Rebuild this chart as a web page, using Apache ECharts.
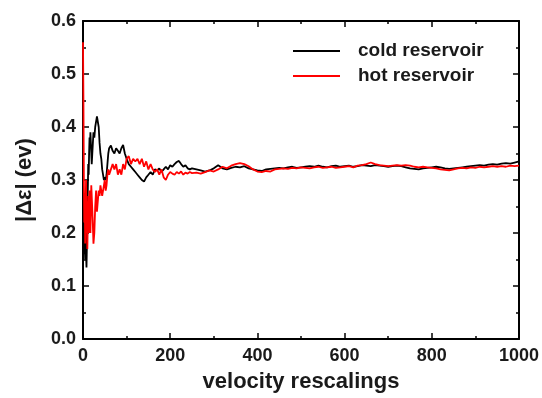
<!DOCTYPE html>
<html>
<head>
<meta charset="utf-8">
<script src="https://cdn.jsdelivr.net/npm/echarts@6/dist/echarts.min.js"></script>
<style>
  html, body { margin: 0; padding: 0; background: #fff; }
  #chart { width: 542px; height: 398px; }
</style>
</head>
<body>
<div id="chart"></div>
<script>
// velocity rescaling steps (x)
const steps = [
  0, 1, 2, 3, 4, 5, 6, 7, 8, 9, 10, 11, 12, 13, 14, 15, 16, 17, 18, 19, 20,
  22, 24, 26, 28, 30, 32, 34, 36, 38, 40, 42, 44, 46, 48, 50, 52, 54, 56, 58, 60,
  64, 68, 72, 76, 80, 84, 88, 92, 96, 100,
  105, 110, 115, 120, 125, 130, 135, 140, 145, 150, 155, 160, 165, 170, 175,
  180, 185, 190, 195, 200, 205, 210, 215, 220, 225, 230, 235, 240, 245, 250,
  260, 270, 280, 290, 300, 310, 320, 330, 340, 350,
  360, 370, 380, 390, 400, 410, 420, 430, 440, 450,
  460, 470, 480, 490, 500, 510, 520, 530, 540, 550,
  560, 570, 580, 590, 600, 610, 620, 630, 640, 650,
  660, 670, 680, 690, 700, 710, 720, 730, 740, 750,
  760, 770, 780, 790, 800, 810, 820, 830, 840, 850,
  860, 870, 880, 890, 900, 910, 920, 930, 940, 950,
  960, 970, 980, 990, 1000
];

// |Δε| cold reservoir
const coldValues = [
  0.25, 0.20, 0.16, 0.22, 0.18, 0.15, 0.20, 0.16, 0.135, 0.18, 0.24, 0.28, 0.33, 0.31, 0.35, 0.38, 0.36, 0.39, 0.37, 0.35, 0.33,
  0.36, 0.39, 0.38, 0.40, 0.41, 0.42, 0.423, 0.40, 0.37, 0.35, 0.34, 0.32, 0.31, 0.30, 0.305, 0.30, 0.31, 0.33, 0.35, 0.36,
  0.365, 0.355, 0.35, 0.36, 0.355, 0.35, 0.36, 0.366, 0.35, 0.34,
  0.33, 0.325, 0.32, 0.315, 0.31, 0.305, 0.30, 0.297, 0.305, 0.31, 0.315, 0.31, 0.32, 0.318, 0.322,
  0.315, 0.32, 0.325, 0.32, 0.328, 0.325, 0.33, 0.334, 0.336, 0.33, 0.325, 0.328, 0.322, 0.32, 0.322,
  0.32, 0.318, 0.316, 0.318, 0.322, 0.328, 0.322, 0.32, 0.323, 0.325,
  0.324, 0.326, 0.322, 0.32, 0.318, 0.317, 0.32, 0.321, 0.322, 0.323,
  0.322, 0.324, 0.325, 0.323, 0.324, 0.325, 0.326, 0.325, 0.327, 0.325,
  0.324, 0.326, 0.327, 0.325, 0.326, 0.327, 0.325, 0.326, 0.328, 0.327,
  0.326, 0.328, 0.327, 0.326, 0.325, 0.326, 0.327, 0.326, 0.324, 0.322,
  0.321, 0.32, 0.322, 0.323, 0.324, 0.325, 0.324, 0.322, 0.321, 0.322,
  0.323, 0.324, 0.325, 0.326, 0.327, 0.328, 0.327, 0.329, 0.33, 0.329,
  0.331, 0.332, 0.331, 0.333, 0.335
];

// |Δε| hot reservoir
const hotValues = [
  0.56, 0.45, 0.30, 0.22, 0.27, 0.18, 0.25, 0.30, 0.20, 0.26, 0.17, 0.22, 0.27, 0.20, 0.24, 0.28, 0.26, 0.20, 0.25, 0.29, 0.27,
  0.23, 0.18, 0.20, 0.25, 0.28, 0.24, 0.26, 0.28, 0.27, 0.29, 0.28, 0.27, 0.28, 0.29, 0.30, 0.28, 0.29, 0.31, 0.32, 0.31,
  0.32, 0.33, 0.32, 0.33, 0.31, 0.32, 0.31, 0.33, 0.32, 0.34,
  0.345, 0.33, 0.34, 0.335, 0.34, 0.33, 0.34, 0.325, 0.335, 0.32, 0.33, 0.32, 0.315, 0.32, 0.31,
  0.32, 0.305, 0.30, 0.31, 0.315, 0.312, 0.31, 0.315, 0.312, 0.316, 0.31, 0.314, 0.312, 0.315, 0.313,
  0.314, 0.312, 0.315, 0.318, 0.316, 0.32, 0.325, 0.322, 0.327, 0.33,
  0.332, 0.33, 0.326, 0.32, 0.316, 0.315, 0.317, 0.316, 0.32, 0.321,
  0.322, 0.321, 0.323, 0.322, 0.324, 0.323, 0.322, 0.324, 0.325, 0.323,
  0.324, 0.325, 0.323, 0.324, 0.325, 0.326, 0.324, 0.327, 0.328, 0.33,
  0.333, 0.33, 0.328, 0.327, 0.326, 0.327, 0.328, 0.327, 0.328, 0.327,
  0.325, 0.324, 0.325, 0.324, 0.323, 0.322, 0.32, 0.319, 0.318, 0.32,
  0.322, 0.323, 0.322, 0.324, 0.323, 0.325, 0.324, 0.325, 0.326, 0.325,
  0.326, 0.325, 0.327, 0.326, 0.327
];

const seriesNames = ['cold reservoir', 'hot reservoir'];
const seriesColors = ['#000000', '#ff0000'];

const font = 'Liberation Sans, Arial, sans-serif';
const textColor = '#1a1a1a';
const chart = echarts.init(document.getElementById('chart'));

const zip = (vals) => steps.map((x, i) => [x, vals[i]]);

// shared axis look: black box, inward ticks
const axisBase = {
  axisLine: { show: true, onZero: false, lineStyle: { color: '#000', width: 2 } },
  axisTick: { show: true, inside: true, length: 6, lineStyle: { color: '#000', width: 1.5 } },
  minorTick: { show: true, splitNumber: 2, length: 3, lineStyle: { color: '#000', width: 1.5 } },
  splitLine: { show: false },
};

const option = {
  animation: false,
  backgroundColor: '#fff',
  grid: { left: 83, right: 23, top: 21, bottom: 58 },
  legend: {
    orient: 'vertical',
    left: 288,
    top: 35,
    itemWidth: 47,
    itemHeight: 2,
    itemGap: 3,
    icon: 'rect',
    data: seriesNames,
    textStyle: {
      fontFamily: font,
      fontWeight: 'bold',
      fontSize: 19,
      color: textColor,
      lineHeight: 22,
      padding: [0, 0, 0, 13],
    },
  },
  xAxis: [
    {
      ...axisBase,
      type: 'value',
      position: 'bottom',
      min: 0,
      max: 1000,
      interval: 200,
      name: 'velocity rescalings',
      nameLocation: 'middle',
      nameGap: 32,
      nameTextStyle: { fontFamily: font, fontWeight: 'bold', fontSize: 22, color: textColor },
      axisLabel: {
        fontFamily: font, fontWeight: 'bold', fontSize: 18, color: textColor, margin: 8,
        formatter: (v) => String(v),
      },
    },
    {
      ...axisBase,
      type: 'value',
      position: 'top',
      min: 0,
      max: 1000,
      interval: 200,
      axisLabel: { show: false },
    },
  ],
  yAxis: [
    {
      ...axisBase,
      type: 'value',
      position: 'left',
      min: 0,
      max: 0.6,
      interval: 0.1,
      name: '|Δε| (ev)',
      nameLocation: 'middle',
      nameGap: 47,
      nameTextStyle: { fontFamily: font, fontWeight: 'bold', fontSize: 22, color: textColor },
      axisLabel: {
        fontFamily: font, fontWeight: 'bold', fontSize: 18, color: textColor, margin: 7,
        formatter: (v) => v.toFixed(1),
      },
    },
    {
      ...axisBase,
      type: 'value',
      position: 'right',
      min: 0,
      max: 0.6,
      interval: 0.1,
      axisLabel: { show: false },
    },
  ],
  series: [
    {
      name: seriesNames[0],
      type: 'line',
      data: zip(coldValues),
      showSymbol: false,
      symbol: 'none',
      lineStyle: { color: seriesColors[0], width: 1.8 },
      itemStyle: { color: seriesColors[0] },
    },
    {
      name: seriesNames[1],
      type: 'line',
      data: zip(hotValues),
      showSymbol: false,
      symbol: 'none',
      lineStyle: { color: seriesColors[1], width: 1.8 },
      itemStyle: { color: seriesColors[1] },
    },
  ],
};

chart.setOption(option);
</script>
</body>
</html>
